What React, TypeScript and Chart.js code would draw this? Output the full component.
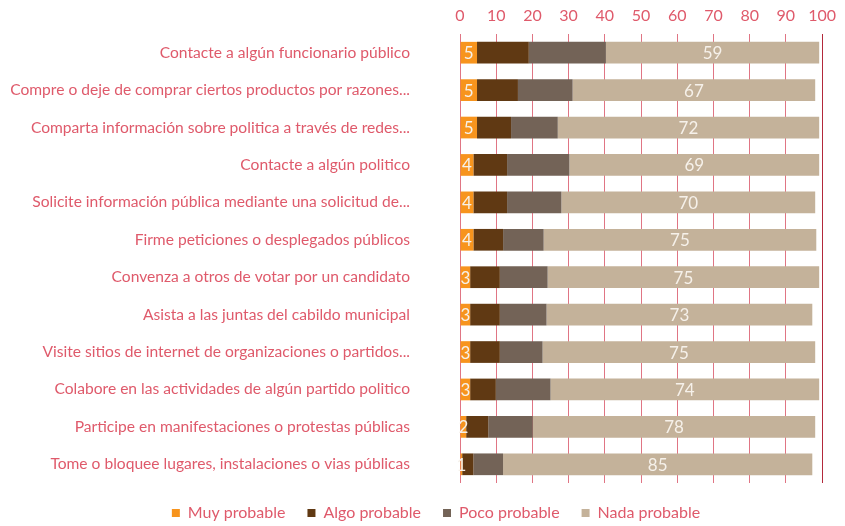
import React, { useEffect, useRef } from "react";
import { Chart, registerables } from "chart.js";

Chart.register(...registerables);

const categories = [
  "Contacte a algún funcionario público",
  "Compre o deje de comprar ciertos productos por razones...",
  "Comparta información sobre politica a través de redes...",
  "Contacte a algún politico",
  "Solicite información pública mediante una solicitud de...",
  "Firme peticiones o desplegados públicos",
  "Convenza a otros de votar por un candidato",
  "Asista a las juntas del cabildo municipal",
  "Visite sitios de internet de organizaciones o partidos...",
  "Colabore en las actividades de algún partido politico",
  "Participe en manifestaciones o protestas públicas",
  "Tome o bloquee lugares, instalaciones o vias públicas",
];

const muyProbable = [4.7, 4.7, 4.7, 3.7, 3.7, 3.7, 2.8, 2.8, 2.8, 2.8, 1.7, 0.6];
const algoProbable = [14.3, 11.3, 9.4, 9.3, 9.3, 8.2, 8.2, 8.2, 8.2, 7.1, 6.1, 3.1];
const pocoProbable = [21.3, 15.1, 12.9, 17.2, 15.0, 11.2, 13.2, 12.9, 11.8, 15.1, 12.3, 8.2];
const nadaProbable = [58.9, 67.0, 72.2, 69.0, 70.1, 75.3, 75.0, 73.4, 75.3, 74.2, 78.0, 85.4];

const seriesNames = ["Muy probable", "Algo probable", "Poco probable", "Nada probable"];
const seriesColors = ["#f7941d", "#603913", "#736357", "#c4b29a"];
const labeledSeries = [0, 3];

const xTicks = [0, 10, 20, 30, 40, 50, 60, 70, 80, 90, 100];

const FONT = "Lato, 'Open Sans', sans-serif";
const PINK = "#df5a6b";

const barLabels = {
  id: "barLabels",
  afterDatasetsDraw(chart: any) {
    const ctx = chart.ctx;
    ctx.save();
    ctx.font = `17px ${FONT}`;
    ctx.fillStyle = "#f6f1ea";
    ctx.textAlign = "center";
    ctx.textBaseline = "middle";
    labeledSeries.forEach((di) => {
      const meta = chart.getDatasetMeta(di);
      meta.data.forEach((el: any, i: number) => {
        const v = chart.data.datasets[di].data[i] as number;
        const p = el.getProps(["x", "base", "y"], true);
        ctx.fillText(String(Math.round(v)), (p.x + p.base) / 2, p.y + 1);
      });
    });
    ctx.restore();
  },
};

const legendShift = {
  id: "legendShift",
  afterLayout(chart: any) {
    if (chart.legend) chart.legend.left += 47;
  },
};

export default function App() {
  const ref = useRef<HTMLCanvasElement>(null);
  useEffect(() => {
    if (!ref.current) return;
    const values = [muyProbable, algoProbable, pocoProbable, nadaProbable];
    const chart = new Chart(ref.current, {
      type: "bar",
      data: {
        labels: categories,
        datasets: values.map((d, i) => ({
          label: seriesNames[i],
          data: d,
          backgroundColor: seriesColors[i],
          borderWidth: 0,
          barPercentage: 0.58,
          categoryPercentage: 1,
        })),
      },
      options: {
        indexAxis: "y",
        animation: false,
        responsive: true,
        maintainAspectRatio: false,
        layout: { padding: { left: 0, right: 20, top: 0, bottom: -5 } },
        scales: {
          x: {
            position: "top",
            stacked: true,
            min: 0,
            max: 100,
            afterBuildTicks: (s: any) => {
              s.ticks = xTicks.map((v) => ({ value: v }));
            },
            afterFit: (s: any) => {
              s.height = 34;
            },
            border: { display: false },
            grid: {
              drawTicks: false,
              color: (c: any) => (c.tick && c.tick.value === 100 ? "#b3293b" : "#e07584"),
              lineWidth: 1,
            },
            ticks: {
              color: PINK,
              padding: 9,
              font: { family: FONT, size: 16 },
            },
          },
          y: {
            stacked: true,
            afterFit: (s: any) => {
              s.width = 460;
              s.paddingTop = 0;
              s.paddingBottom = 0;
            },
            border: { display: false },
            grid: { display: false },
            ticks: {
              color: PINK,
              padding: 42,
              font: { family: FONT, size: 15.6 },
            },
          },
        },
        plugins: {
          legend: {
            position: "bottom",
            labels: {
              color: PINK,
              boxWidth: 8,
              boxHeight: 8,
              padding: 22,
              font: { family: FONT, size: 16 },
            },
          },
          tooltip: { enabled: false },
        },
      },
      plugins: [barLabels, legendShift],
    } as any);
    return () => chart.destroy();
  }, []);
  return (
    <div style={{ position: "fixed", left: 0, top: 0, width: 845, height: 526 }}>
      <canvas ref={ref} />
    </div>
  );
}
